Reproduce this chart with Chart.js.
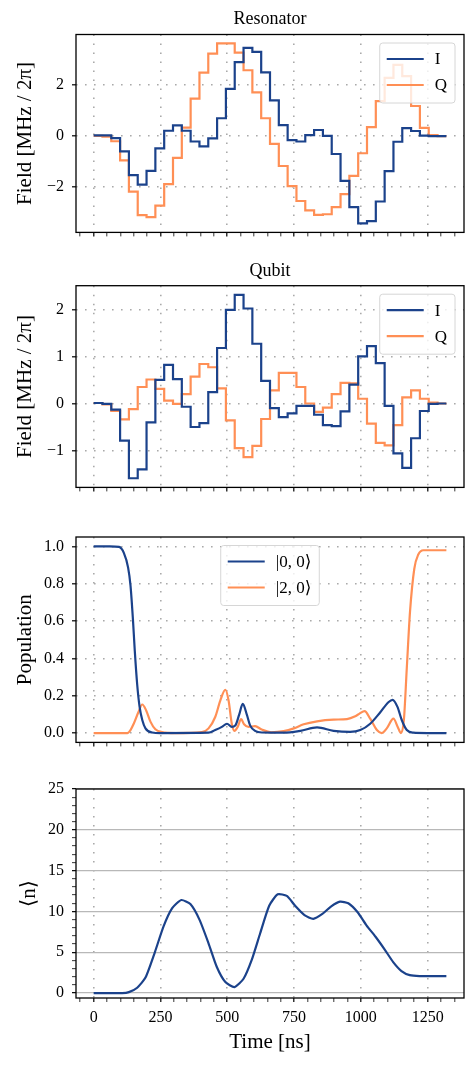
<!DOCTYPE html>
<html lang="en">
<head>
  <meta charset="UTF-8">
  <title>Resonator and qubit pulse</title>
  <script src="https://cdn.jsdelivr.net/npm/chart.js@4"></script>
  <style>
    body { margin: 0; background: #fff; }
    .panel { position: absolute; left: 0; width: 476px; }
  </style>
</head>
<body>
  <div class="panel" style="top:0;height:250px"><canvas id="resonatorChart"></canvas></div>
  <div class="panel" style="top:250px;height:255px"><canvas id="qubitChart"></canvas></div>
  <div class="panel" style="top:505px;height:255px"><canvas id="populationChart"></canvas></div>
  <div class="panel" style="top:760px;height:305px"><canvas id="photonChart"></canvas></div>

  <script>
    // piecewise-constant pulse, one value per 33 ns segment (last value repeated to close the step)
    const stepTimes = [0, 33, 66, 99, 132, 165, 198, 231, 264, 297, 330, 363, 396, 429, 462, 495, 528, 561, 594, 627,
      660, 693, 726, 759, 792, 825, 858, 891, 924, 957, 990, 1023, 1056, 1089, 1122, 1155, 1188, 1221, 1254, 1287, 1320];

    const resonatorI = [0.03, 0.03, -0.08, -0.6, -1.53, -1.9, -1.36, -0.48, 0.21, 0.42, 0.21, -0.21, -0.4, -0.09, 0.7, 1.85, 2.9, 3.46, 3.3, 2.5,
      1.4, 0.43, -0.16, -0.21, 0.04, 0.24, 0.01, -0.7, -1.75, -2.78, -3.42, -3.33, -2.56, -1.37, -0.22, 0.31, 0.2, 0.02, 0.0, 0.0, 0.0];
    const resonatorQ = [0.01, -0.02, -0.2, -0.95, -2.17, -3.09, -3.17, -2.72, -1.88, -0.85, 0.33, 1.47, 2.49, 3.23, 3.63, 3.63, 3.27, 2.58, 1.71, 0.7,
      -0.3, -1.17, -1.96, -2.54, -2.91, -3.08, -3.06, -2.78, -2.27, -1.56, -0.67, 0.35, 1.37, 2.28, 2.79, 2.35, 1.18, 0.32, 0.04, 0.0, 0.0];

    const qubitI = [0.01, -0.01, -0.13, -0.79, -1.59, -1.4, -0.4, 0.5, 0.82, 0.52, -0.07, -0.5, -0.42, 0.24, 1.18, 1.99, 2.31, 2.02, 1.27, 0.48,
      -0.1, -0.29, -0.21, -0.05, -0.05, -0.24, -0.46, -0.48, -0.17, 0.4, 1.0, 1.22, 0.86, -0.05, -1.06, -1.37, -0.74, -0.16, -0.01, 0.0, 0.0];
    const qubitQ = [0.01, -0.02, -0.16, -0.34, -0.12, 0.35, 0.51, 0.31, 0.06, -0.01, 0.2, 0.57, 0.84, 0.77, 0.32, -0.36, -0.95, -1.14, -0.9, -0.33,
      0.28, 0.65, 0.65, 0.35, 0.0, -0.18, -0.09, 0.2, 0.44, 0.43, 0.1, -0.43, -0.84, -0.89, -0.46, 0.13, 0.28, 0.1, 0.02, 0.0, 0.0];

    // populations
    const pop00Times = [0, 60, 95, 113, 129, 138, 147, 154, 163, 172, 182, 194, 219, 250, 430, 455, 480, 499, 517, 530, 545, 558, 573, 586,
      604, 629, 711, 774, 836, 898, 960, 998, 1035, 1072, 1103, 1119, 1137, 1153, 1172, 1196, 1250, 1320];
    const pop00 = [1.0, 1.0, 0.997, 0.965, 0.886, 0.79, 0.61, 0.44, 0.26, 0.14, 0.07, 0.025, 0.003, 0.0, 0.002, 0.016, 0.033, 0.05, 0.033, 0.04, 0.10, 0.156, 0.10, 0.04,
      0.012, 0.003, 0.002, 0.012, 0.03, 0.012, 0.006, 0.016, 0.05, 0.11, 0.165, 0.178, 0.14, 0.07, 0.016, 0.002, 0.0, 0.0];

    const pop20Times = [0, 126, 138, 150, 167, 182, 197, 213, 231, 256, 306, 405, 430, 455, 474, 493, 505, 517, 527, 539, 552, 563, 580, 604, 629, 664,
      711, 749, 786, 836, 898, 948, 979, 995, 1014, 1035, 1060, 1078, 1097, 1122, 1138, 1150, 1161, 1172, 1184, 1200, 1215, 1234, 1320];
    const pop20 = [0, 0, 0.016, 0.05, 0.11, 0.153, 0.12, 0.06, 0.02, 0.005, 0.0, 0.005, 0.025, 0.086, 0.174, 0.232, 0.174, 0.05, 0.012, 0.033, 0.075, 0.047, 0.033, 0.037, 0.019, 0.004,
      0.01, 0.025, 0.047, 0.063, 0.072, 0.075, 0.09, 0.104, 0.118, 0.077, 0.016, 0.0, 0.025, 0.077, 0.033, 0.0, 0.07, 0.35, 0.65, 0.88, 0.956, 0.979, 0.979];

    // mean photon number
    const photonTimes = [0, 107, 132, 163, 194, 229, 262, 294, 328, 362, 396, 430, 461, 493, 527, 561, 592, 623, 657, 689, 723, 754, 789, 822,
      856, 888, 922, 953, 988, 1021, 1055, 1090, 1121, 1152, 1183, 1220, 1320];
    const photonMean = [0, 0, 0.12, 0.66, 1.9, 5.0, 8.2, 10.4, 11.4, 10.9, 9.0, 6.1, 3.2, 1.35, 0.74, 1.76, 4.1, 7.3, 10.7, 12.1, 11.9, 10.7, 9.55, 9.1,
      9.7, 10.6, 11.2, 11.0, 9.9, 8.3, 6.9, 5.3, 3.8, 2.7, 2.2, 2.09, 2.09];

    // tick labels
    const timeTicks = [0, 250, 500, 750, 1000, 1250];
    const resonatorTicks = [-2, 0, 2];
    const qubitTicks = [-1, 0, 1, 2];
    const populationTicks = [0, 0.2, 0.4, 0.6, 0.8, 1.0];
    const photonTicks = [0, 5, 10, 15, 20, 25];

    const SERIF = "'Liberation Serif', 'DejaVu Serif', serif";
    const BLUE = '#1b428b';
    const ORANGE = '#ff8f55';
    const GRID = '#aaaaaa';
    const DOTS = [1.6, 7.4];

    const pts = (xs, ys) => xs.map((x, i) => ({ x: x, y: ys[i] }));
    const minus = v => String(v).replace('-', '\u2212');

    // major ticks plus minor ones in between (minor get no label and no grid line)
    function withMinor(majors, minorStep, lo, hi) {
      const out = [];
      for (let v = Math.ceil(lo / minorStep) * minorStep; v <= hi; v += minorStep) {
        const r = Math.round(v * 1000) / 1000;
        out.push({ value: r, major: majors.includes(r) });
      }
      return out;
    }

    // black frame round the axes and a matplotlib-like legend box
    const frameAndLegend = {
      id: 'frameAndLegend',
      afterDatasetsDraw(chart, args, opts) {
        const ctx = chart.ctx, a = chart.chartArea;
        ctx.save();
        ctx.strokeStyle = '#000';
        ctx.lineWidth = 1.3;
        ctx.strokeRect(a.left, a.top, a.right - a.left, a.bottom - a.top);
        if (opts.show) {
          ctx.font = '17px ' + SERIF;
          const sets = chart.data.datasets;
          const textW = Math.max(...sets.map(d => ctx.measureText(d.label).width));
          const w = 7 + 37 + 11 + textW + 8;
          const h = 60;
          const x = opts.align === 'center' ? (a.left + a.right - w) / 2 : a.right - 9 - w;
          const y = a.top + 8.5;
          ctx.beginPath();
          ctx.roundRect(x, y, w, h, 3);
          ctx.fillStyle = 'rgba(255,255,255,0.8)';
          ctx.fill();
          ctx.strokeStyle = '#d6d6d6';
          ctx.lineWidth = 1;
          ctx.stroke();
          sets.forEach((d, i) => {
            const ly = y + 16 + i * 26;
            ctx.strokeStyle = d.borderColor;
            ctx.lineWidth = 2.2;
            ctx.beginPath();
            ctx.moveTo(x + 7, ly);
            ctx.lineTo(x + 44, ly);
            ctx.stroke();
            ctx.fillStyle = '#000';
            ctx.textBaseline = 'middle';
            ctx.fillText(d.label, x + 55, ly + 1);
          });
        }
        ctx.restore();
      }
    };

    const isMajor = c => c.tick && c.tick.major;

    function timeAxis(height, withLabels) {
      return {
        type: 'linear',
        min: -66,
        max: 1386,
        afterFit: s => { s.height = height; },
        afterBuildTicks: s => { s.ticks = withMinor(timeTicks, 50, -66, 1386); },
        border: { display: false, dash: DOTS },
        grid: {
          color: c => isMajor(c) ? GRID : 'rgba(0,0,0,0)',
          lineWidth: 1.6,
          tickLength: 4,
          tickColor: '#000',
          tickWidth: c => isMajor(c) ? 1.2 : 0.8
        },
        ticks: {
          display: withLabels,
          autoSkip: false,
          maxRotation: 0,
          padding: 6,
          color: '#000',
          font: { family: SERIF, size: 16 },
          callback: v => timeTicks.includes(v) ? v : ''
        },
        title: {
          display: withLabels,
          text: 'Time [ns]',
          color: '#000',
          font: { family: SERIF, size: 21 },
          padding: { top: 0, bottom: 10 }
        }
      };
    }

    function valueAxis(min, max, majors, label, format, extra) {
      return Object.assign({
        min: min,
        max: max,
        afterFit: s => { s.width = 76; },
        afterBuildTicks: s => { s.ticks = majors.map(v => ({ value: v, major: true })); },
        border: { display: false, dash: DOTS },
        grid: { color: GRID, lineWidth: 1.6, tickLength: 4, tickColor: '#000', tickWidth: 1.2 },
        ticks: {
          autoSkip: false,
          padding: 8,
          color: '#000',
          font: { family: SERIF, size: 16 },
          callback: format
        },
        title: {
          display: true,
          text: label,
          color: '#000',
          font: { family: SERIF, size: 21 },
          padding: { top: 12.4, bottom: 0 }
        }
      }, extra || {});
    }

    function baseOptions(padTop, title, titlePad, legend, xAxis, yAxis) {
      return {
        responsive: true,
        maintainAspectRatio: false,
        animation: false,
        layout: { padding: { left: 0, right: 12, top: padTop, bottom: 0 } },
        elements: { point: { radius: 0 }, line: { borderWidth: 2.2 } },
        plugins: {
          legend: { display: false },
          tooltip: { enabled: false },
          title: {
            display: !!title,
            text: title,
            fullSize: false,
            color: '#000',
            font: { family: SERIF, size: 18, weight: 'normal' },
            padding: titlePad
          },
          frameAndLegend: legend
        },
        scales: { x: xAxis, y: yAxis }
      };
    }

    function stepSet(label, values, color) {
      return { label: label, data: pts(stepTimes, values), borderColor: color, stepped: true, fill: false };
    }

    new Chart(document.getElementById('resonatorChart'), {
      type: 'line',
      data: { datasets: [stepSet('I', resonatorI, BLUE), stepSet('Q', resonatorQ, ORANGE)] },
      options: baseOptions(0, 'Resonator', { top: 8.2, bottom: 4.7 }, { show: true, align: 'right' },
        timeAxis(7, false), valueAxis(-3.77, 3.98, resonatorTicks, 'Field [MHz / 2\u03c0]', minus)),
      plugins: [frameAndLegend]
    });

    new Chart(document.getElementById('qubitChart'), {
      type: 'line',
      data: { datasets: [stepSet('I', qubitI, BLUE), stepSet('Q', qubitQ, ORANGE)] },
      options: baseOptions(0, 'Qubit', { top: 10, bottom: 4.1 }, { show: true, align: 'right' },
        timeAxis(9, false), valueAxis(-1.785, 2.505, qubitTicks, 'Field [MHz / 2\u03c0]', minus)),
      plugins: [frameAndLegend]
    });

    new Chart(document.getElementById('populationChart'), {
      type: 'line',
      data: {
        datasets: [
          { label: '|0, 0\u27e9', data: pts(pop00Times, pop00), borderColor: BLUE, cubicInterpolationMode: 'monotone' },
          { label: '|2, 0\u27e9', data: pts(pop20Times, pop20), borderColor: ORANGE, cubicInterpolationMode: 'monotone' }
        ]
      },
      options: baseOptions(32, '', { top: 0, bottom: 0 }, { show: true, align: 'center' },
        timeAxis(13, false), valueAxis(-0.05, 1.05, populationTicks, 'Population', v => v.toFixed(1))),
      plugins: [frameAndLegend]
    });

    new Chart(document.getElementById('photonChart'), {
      type: 'line',
      data: {
        datasets: [
          { label: '\u27e8n\u27e9', data: pts(photonTimes, photonMean), borderColor: BLUE, tension: 0.2 }
        ]
      },
      options: baseOptions(29, '', { top: 0, bottom: 0 }, { show: false },
        timeAxis(67, true),
        valueAxis(-0.6, 25, photonTicks, '\u27e8n\u27e9', v => photonTicks.includes(v) ? v : '', {
          afterBuildTicks: s => { s.ticks = withMinor(photonTicks, 1, -0.6, 25); },
          border: { display: false, dash: [] },
          grid: {
            color: c => isMajor(c) ? '#b8b8b8' : 'rgba(0,0,0,0)',
            lineWidth: 1.3,
            tickLength: 4,
            tickColor: '#000',
            tickWidth: c => isMajor(c) ? 1.2 : 0.8
          },
          title: {
            display: true,
            text: '\u27e8n\u27e9',
            color: '#000',
            font: { family: SERIF, size: 21 },
            padding: { top: 16.4, bottom: 0 }
          }
        })),
      plugins: [frameAndLegend]
    });
  </script>
</body>
</html>
